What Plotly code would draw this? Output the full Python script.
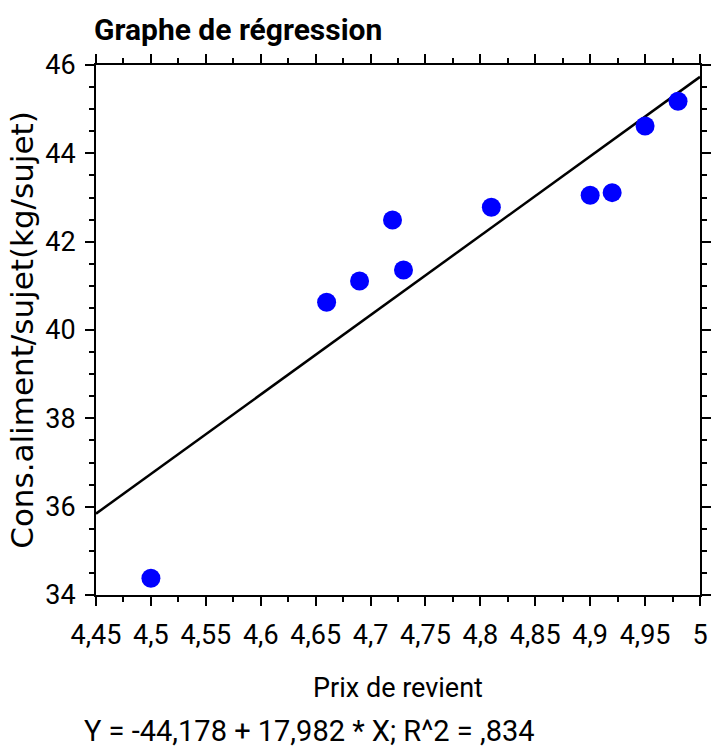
import plotly.graph_objects as go

# Data
prix = [4.50, 4.66, 4.69, 4.72, 4.73, 4.81, 4.90, 4.92, 4.95, 4.98]
cons = [34.38, 40.63, 41.11, 42.49, 41.36, 42.78, 43.05, 43.11, 44.62, 45.18]
intercept = -44.178
slope = 17.982
x_range = [4.45, 5.0]
y_range = [34, 46]
x_tickvals = [4.45, 4.5, 4.55, 4.6, 4.65, 4.7, 4.75, 4.8, 4.85, 4.9, 4.95, 5.0]
x_ticktext = ["4,45", "4,5", "4,55", "4,6", "4,65", "4,7", "4,75", "4,8", "4,85", "4,9", "4,95", "5"]
y_tickvals = [34, 36, 38, 40, 42, 44, 46]
y_ticktext = ["34", "36", "38", "40", "42", "44", "46"]

FONT = "Roboto, DejaVu Sans Condensed, sans-serif"

line_x = [x_range[0], x_range[1]]
line_y = [intercept + slope * v for v in line_x]

fig = go.Figure()
fig.add_trace(go.Scatter(x=line_x, y=line_y, mode="lines",
                         line=dict(color="black", width=2.5), showlegend=False,
                         hoverinfo="skip"))
fig.add_trace(go.Scatter(x=prix, y=cons, mode="markers",
                         marker=dict(color="#0000FF", size=19, line=dict(width=0)),
                         showlegend=False))

axis_common = dict(showline=True, linecolor="black", linewidth=2, mirror="allticks",
                   ticks="outside", ticklen=9, tickwidth=2, tickcolor="black",
                   showgrid=False, zeroline=False, automargin=False,
                   tickfont=dict(family=FONT, size=27, color="black"))

fig.update_xaxes(range=x_range, tickvals=x_tickvals, ticktext=x_ticktext,
                 minor=dict(ticks="outside", ticklen=5, tickwidth=2, tickcolor="black",
                            dtick=0.025, tick0=4.45, showgrid=False),
                 title=dict(text="Prix de revient", font=dict(family=FONT, size=27, color="black"),
                            standoff=28),
                 ticklabelstandoff=6,
                 **axis_common)
fig.update_yaxes(range=y_range, tickvals=y_tickvals, ticktext=y_ticktext,
                 minor=dict(ticks="outside", ticklen=5, tickwidth=2, tickcolor="black",
                            dtick=0.5, tick0=34, showgrid=False),
                 title=dict(text="Cons.aliment/sujet(kg/sujet)",
                            font=dict(family="DejaVu Sans, sans-serif", size=31, color="black"),
                            standoff=2),
                 ticklabelstandoff=4,
                 **axis_common)

fig.add_annotation(text="Graphe de régression", xref="paper", yref="paper",
                   x=-0.007, y=1.0, yshift=36, xanchor="left", yanchor="middle",
                   showarrow=False,
                   font=dict(family=FONT, size=30, color="black", weight="bold"))
fig.add_annotation(text="Y = -44,178 + 17,982 * X; R^2 = ,834", xref="paper", yref="paper",
                   x=0.354, y=0, yshift=-136, xanchor="center", yanchor="middle",
                   showarrow=False,
                   font=dict(family=FONT, size=29, color="black"))

fig.update_layout(width=712, height=751, plot_bgcolor="white", paper_bgcolor="white",
                  margin=dict(l=96, r=12, t=65, b=156), separators=", ")

fig.write_html("out.html")
